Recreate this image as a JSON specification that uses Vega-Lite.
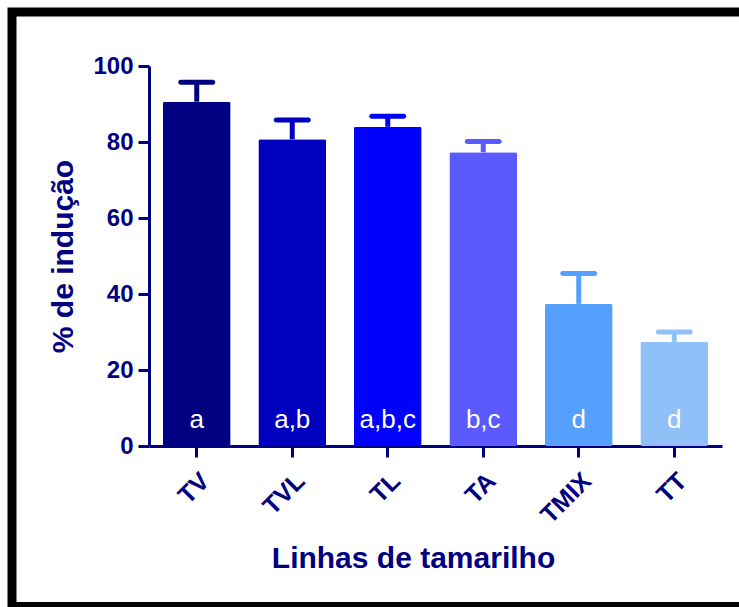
{
  "$schema": "https://vega.github.io/schema/vega-lite/v6.json",
  "width": 573,
  "height": 380,
  "autosize": {"type": "none"},
  "padding": {"left": 149, "top": 66, "right": 17, "bottom": 161},
  "background": "white",
  "config": {"view": {"stroke": null}, "font": "Liberation Sans"},
  "layer": [
    {
      "data": {"values": [{"frame": "border"}]},
      "mark": {"type": "rect", "fill": null, "stroke": "black", "strokeWidth": 9},
      "encoding": {
        "x": {"datum": -0.2391, "type": "quantitative", "scale": {"domain": [0, 1]}, "axis": null},
        "x2": {"datum": 1.2},
        "y": {"datum": 1.1421, "type": "quantitative", "scale": {"domain": [0, 1]}, "axis": null},
        "y2": {"datum": -0.4224}
      }
    },
    {
      "data": {
        "values": [
          {"linha": "TV", "valor": 90.6, "superior": 95.7, "letra": "a"},
          {"linha": "TVL", "valor": 80.7, "superior": 85.8, "letra": "a,b"},
          {"linha": "TL", "valor": 84.0, "superior": 86.8, "letra": "a,b,c"},
          {"linha": "TA", "valor": 77.3, "superior": 80.1, "letra": "b,c"},
          {"linha": "TMIX", "valor": 37.4, "superior": 45.4, "letra": "d"},
          {"linha": "TT", "valor": 27.4, "superior": 30.0, "letra": "d"}
        ]
      },
      "encoding": {
        "x": {
          "field": "linha",
          "type": "nominal",
          "sort": null,
          "scale": {"paddingInner": 0.29, "paddingOuter": 0.145},
          "axis": {
            "title": "Linhas de tamarilho",
            "titleFont": "Liberation Sans",
            "titleFontSize": 30,
            "titleFontWeight": "bold",
            "titleColor": "#000080",
            "titleX": 264,
            "titleY": 121,
            "titleBaseline": "alphabetic",
            "labelAngle": -45,
            "labelFont": "Liberation Sans",
            "labelFontSize": 25,
            "labelFontWeight": "bold",
            "labelColor": "#000080",
            "labelPadding": 11,
            "domainColor": "#000080",
            "domainWidth": 3,
            "tickColor": "#000080",
            "tickWidth": 3,
            "tickSize": 11
          }
        }
      },
      "layer": [
        {
          "mark": {"type": "bar", "cornerRadius": 2},
          "encoding": {
            "y": {
              "field": "valor",
              "type": "quantitative",
              "scale": {"domain": [0, 100], "nice": false},
              "axis": {
                "title": "% de indução",
                "titleFont": "Liberation Sans",
                "titleFontSize": 30,
                "titleFontWeight": "bold",
                "titleColor": "#000080",
                "titlePadding": 14,
                "values": [0, 20, 40, 60, 80, 100],
                "grid": false,
                "labelFont": "Liberation Sans",
                "labelFontSize": 24,
                "labelFontWeight": "bold",
                "labelColor": "#000080",
                "labelPadding": 5,
                "labelFlush": false,
                "labelOverlap": false,
                "domainColor": "#000080",
                "domainWidth": 3,
                "tickColor": "#000080",
                "tickWidth": 3,
                "tickSize": 11
              }
            },
            "color": {
              "field": "linha",
              "type": "nominal",
              "scale": {
                "domain": ["TV", "TVL", "TL", "TA", "TMIX", "TT"],
                "range": ["#000080", "#0000BE", "#0000FF", "#5A5AFF", "#55A0FF", "#90C0F8"]
              },
              "legend": null
            }
          }
        },
        {
          "mark": {"type": "rule", "strokeWidth": 5},
          "encoding": {
            "y": {"field": "valor", "type": "quantitative"},
            "y2": {"field": "superior"},
            "color": {"field": "linha", "type": "nominal", "legend": null}
          }
        },
        {
          "mark": {"type": "tick", "size": 37, "thickness": 5, "cornerRadius": 2.5, "opacity": 1},
          "encoding": {
            "y": {"field": "superior", "type": "quantitative"},
            "color": {"field": "linha", "type": "nominal", "legend": null}
          }
        },
        {
          "mark": {"type": "text", "color": "white", "fontSize": 26, "font": "Liberation Sans", "baseline": "alphabetic"},
          "encoding": {
            "y": {"datum": 4.7, "type": "quantitative"},
            "text": {"field": "letra", "type": "nominal"}
          }
        }
      ]
    }
  ],
  "resolve": {"scale": {"x": "independent", "y": "independent"}}
}
